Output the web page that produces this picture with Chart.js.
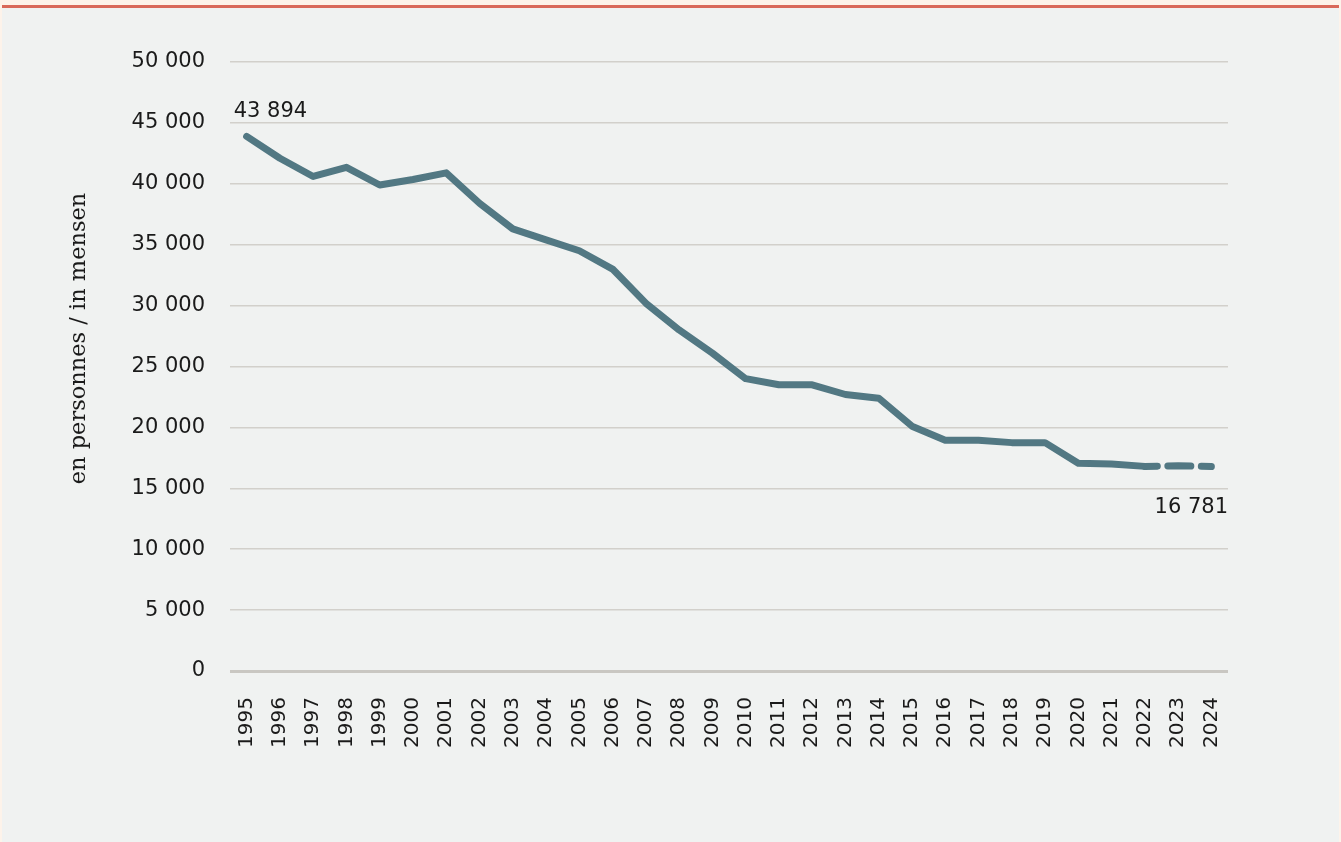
<!DOCTYPE html>
<html>
<head>
<meta charset="utf-8">
<script src="https://cdn.jsdelivr.net/npm/chart.js@4"></script>
<style>
    html, body { margin: 0; padding: 0; background: #fdf3ea; }
    #panel {
        position: absolute; left: 2px; top: 5px; width: 1337px; height: 837px;
        border-top: 3px solid #d9695a; background: #f0f2f1;
    }
    #wrap { position: absolute; left: 0; top: 0; width: 1337px; height: 837px; }
</style>
</head>
<body>
<div id="panel"><div id="wrap"><canvas id="lineChart"></canvas></div></div>
<script>
const years = ['1995', '1996', '1997', '1998', '1999', '2000', '2001', '2002', '2003', '2004',
    '2005', '2006', '2007', '2008', '2009', '2010', '2011', '2012', '2013', '2014',
    '2015', '2016', '2017', '2018', '2019', '2020', '2021', '2022', '2023', '2024'];
const persons = [43894, 42100, 40600, 41350, 39900, 40350, 40900, 38400, 36300, 35400,
    34500, 33000, 30200, 28000, 26100, 24000, 23500, 23500, 22700, 22400,
    20100, 18950, 18950, 18750, 18750, 17050, 17000, 16800, 16850, 16781];
const dashFrom = 27; // 2022 onwards is dashed
const axisTitle = 'en personnes / in mensen';

function fmt(v) {
    return String(v).replace(/\B(?=(\d{3})+(?!\d))/g, ' ');
}

// Labels for first and last value + rotated axis title
const extras = {
    id: 'extras',
    afterDatasetsDraw(chart) {
        const ctx = chart.ctx;
        const area = chart.chartArea;
        const pts = chart.getDatasetMeta(0).data;
        const first = pts[0], last = pts[pts.length - 1];
        ctx.save();
        ctx.font = '21px "DejaVu Sans"';
        ctx.fillStyle = '#1a1a1a';
        ctx.textAlign = 'left';
        ctx.textBaseline = 'middle';
        ctx.fillText(fmt(persons[0]), first.x - 13, first.y - 25);
        ctx.textAlign = 'right';
        ctx.fillText(fmt(persons[persons.length - 1]), area.right, last.y + 41);

        // y axis title
        ctx.translate(77, (area.top + area.bottom) / 2 - 28);
        ctx.rotate(-Math.PI / 2);
        ctx.textAlign = 'center';
        ctx.font = '22.5px "DejaVu Serif"';
        ctx.fillText(axisTitle, 0, 0);
        ctx.restore();
    }
};

const ctx = document.getElementById('lineChart').getContext('2d');
new Chart(ctx, {
    type: 'line',
    data: {
        labels: years,
        datasets: [{
            data: persons,
            borderColor: '#527883',
            borderWidth: 7,
            borderCapStyle: 'round',
            borderJoinStyle: 'round',
            pointRadius: 0,
            tension: 0,
            segment: {
                borderDash: c => c.p0DataIndex >= dashFrom ? [23, 10.5] : undefined,
                borderDashOffset: c => c.p0DataIndex >= dashFrom ? 10.5 : undefined
            }
        }]
    },
    options: {
        responsive: true,
        maintainAspectRatio: false,
        animation: false,
        layout: { padding: { left: 0, right: 111, top: 54, bottom: 0 } },
        plugins: {
            legend: { display: false },
            tooltip: { enabled: false }
        },
        scales: {
            x: {
                offset: true,
                grid: { display: false },
                border: { display: false },
                afterFit: s => { s.height = 174; },
                ticks: {
                    color: '#1a1a1a',
                    font: { family: 'DejaVu Sans', size: 20 },
                    maxRotation: 90,
                    minRotation: 90,
                    autoSkip: false,
                    padding: 18
                }
            },
            y: {
                min: 0,
                max: 50000,
                afterFit: s => { s.width = 228; },
                grid: {
                    color: c => c.tick.value === 0 ? '#c9c7c2' : '#d2d0cb',
                    lineWidth: c => c.tick.value === 0 ? 3 : 1.5,
                    drawTicks: false
                },
                border: { display: false },
                ticks: {
                    stepSize: 5000,
                    color: '#1a1a1a',
                    font: { family: 'DejaVu Sans', size: 21 },
                    padding: 25,
                    callback: v => fmt(v)
                }
            }
        }
    },
    plugins: [extras]
});
</script>
</body>
</html>
